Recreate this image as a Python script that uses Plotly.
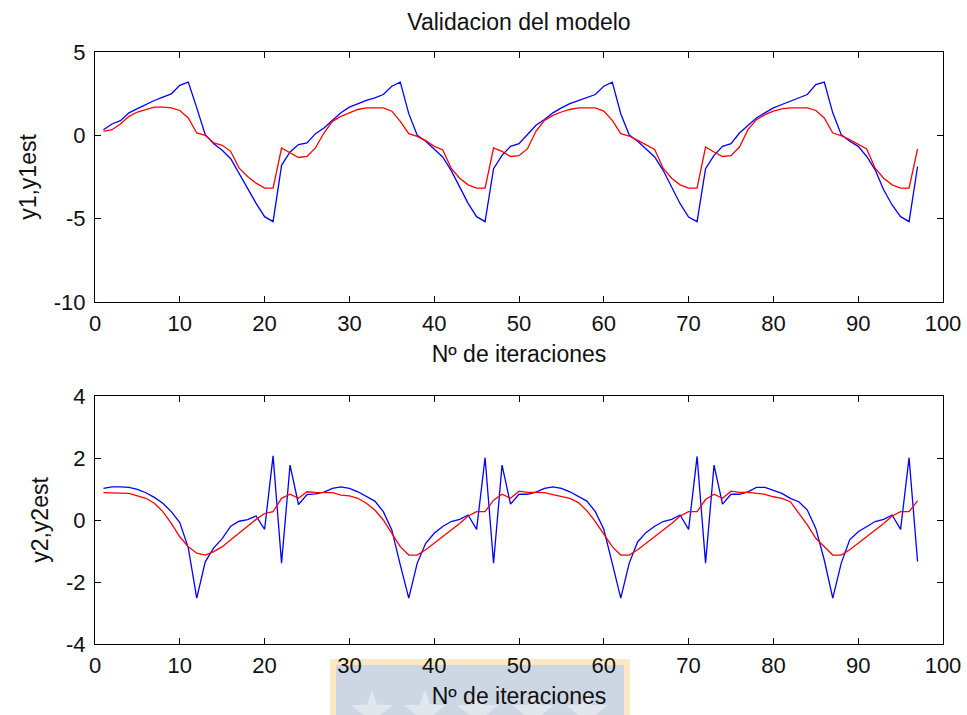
import math
import plotly.graph_objects as go
from plotly.subplots import make_subplots

# iteration index
iteraciones = list(range(1, 98))

# output 1: measured and estimated
y1 = [0.34, 0.68, 0.88, 1.35, 1.6, 1.85, 2.09, 2.29, 2.49, 3.0, 3.19, 1.65, 0.04, -0.5, -0.9, -1.4, -2.3, -3.2, -4.08, -4.88, -5.18, -1.8, -1.0, -0.55, -0.45,
      0.1, 0.44, 0.9, 1.35, 1.69, 1.9, 2.1, 2.25, 2.45, 2.95, 3.19, 1.3, 0.0, -0.36, -0.86, -1.3, -2.1, -3.1, -4.08, -4.88, -5.18, -2.0, -1.2, -0.66, -0.5,
      0.05, 0.6, 0.95, 1.35, 1.65, 1.9, 2.08, 2.25, 2.45, 2.95, 3.19, 1.3, 0.02, -0.36, -0.86, -1.3, -2.1, -3.15, -4.1, -4.9, -5.18, -2.0, -1.2, -0.66, -0.5,
      0.14, 0.6, 1.04, 1.35, 1.65, 1.85, 2.05, 2.25, 2.45, 3.05, 3.19, 1.35, 0.04, -0.36, -0.66, -1.27, -2.07, -3.27, -4.18, -4.88, -5.18, -1.87]
y1est = [0.24, 0.34, 0.68, 1.14, 1.4, 1.55, 1.69, 1.69, 1.65, 1.49, 1.04, 0.14, 0.0, -0.46, -0.6, -0.96, -1.97, -2.47, -2.87, -3.17, -3.17, -0.76, -1.06, -1.33, -1.27,
         -0.75, 0.14, 0.84, 1.14, 1.35, 1.55, 1.65, 1.65, 1.65, 1.45, 0.84, 0.1, -0.06, -0.32, -0.66, -0.86, -1.97, -2.57, -2.97, -3.17, -3.17, -0.76, -0.96, -1.27, -1.22,
         -0.8, 0.24, 0.9, 1.2, 1.4, 1.55, 1.65, 1.65, 1.65, 1.45, 0.9, 0.1, -0.04, -0.3, -0.6, -0.85, -1.97, -2.57, -2.97, -3.17, -3.17, -0.7, -1.0, -1.27, -1.22,
         -0.7, 0.34, 0.94, 1.24, 1.45, 1.59, 1.65, 1.65, 1.65, 1.49, 1.04, 0.14, -0.02, -0.26, -0.56, -0.82, -1.97, -2.57, -2.97, -3.17, -3.17, -0.82]

# output 2: measured and estimated
y2 = [1.02, 1.07, 1.07, 1.05, 0.99, 0.88, 0.73, 0.54, 0.27, -0.08, -0.9, -2.52, -1.35, -0.9, -0.6, -0.2, -0.04, 0.01, 0.13, -0.3, 2.07, -1.39, 1.77, 0.5, 0.82,
      0.84, 0.9, 1.02, 1.07, 1.02, 0.91, 0.75, 0.61, 0.27, -0.32, -1.45, -2.52, -1.39, -0.75, -0.43, -0.21, -0.05, 0.02, 0.16, -0.3, 2.01, -1.39, 1.77, 0.51, 0.83,
      0.83, 0.9, 1.02, 1.07, 1.02, 0.91, 0.75, 0.61, 0.27, -0.3, -1.4, -2.52, -1.39, -0.7, -0.4, -0.2, -0.05, 0.02, 0.16, -0.3, 2.05, -1.39, 1.77, 0.51, 0.83,
      0.83, 0.91, 1.05, 1.05, 0.96, 0.86, 0.7, 0.59, 0.32, -0.27, -1.29, -2.52, -1.39, -0.64, -0.38, -0.21, -0.05, 0.02, 0.16, -0.3, 2.01, -1.34]
y2est = [0.88, 0.88, 0.88, 0.86, 0.78, 0.7, 0.54, 0.27, -0.11, -0.54, -0.86, -1.07, -1.13, -1.02, -0.86, -0.64, -0.43, -0.19, 0.02, 0.21, 0.27, 0.7, 0.83, 0.7, 0.91,
         0.89, 0.89, 0.88, 0.8, 0.78, 0.7, 0.54, 0.32, 0.0, -0.43, -0.86, -1.13, -1.13, -0.96, -0.75, -0.54, -0.32, -0.11, 0.13, 0.27, 0.27, 0.64, 0.83, 0.7, 0.93,
         0.89, 0.89, 0.88, 0.82, 0.77, 0.7, 0.56, 0.3, -0.05, -0.45, -0.86, -1.13, -1.13, -0.96, -0.75, -0.54, -0.32, -0.11, 0.13, 0.27, 0.27, 0.66, 0.83, 0.7, 0.93,
         0.89, 0.89, 0.87, 0.83, 0.75, 0.7, 0.59, 0.21, -0.16, -0.59, -0.86, -1.13, -1.13, -0.96, -0.75, -0.54, -0.32, -0.11, 0.13, 0.27, 0.27, 0.62]

x_ticks = [0, 10, 20, 30, 40, 50, 60, 70, 80, 90, 100]
y1_ticks = [-10, -5, 0, 5]
y2_ticks = [-4, -2, 0, 2, 4]

FONT = "Liberation Sans, Arial, sans-serif"
W, H = 967, 715
L, R, T, B = 95, 24, 52, 71
pw, ph = W - L - R, H - T - B

def px_x(px):
    return (px - L) / pw

def px_y(py):
    return (H - B - py) / ph

fig = make_subplots(rows=2, cols=1)

fig.add_trace(go.Scatter(x=iteraciones, y=y1, mode="lines", line=dict(color="#0000ff", width=1.3), name="y1"), row=1, col=1)
fig.add_trace(go.Scatter(x=iteraciones, y=y1est, mode="lines", line=dict(color="#ff0000", width=1.3), name="y1est"), row=1, col=1)
fig.add_trace(go.Scatter(x=iteraciones, y=y2, mode="lines", line=dict(color="#0000ff", width=1.3), name="y2"), row=2, col=1)
fig.add_trace(go.Scatter(x=iteraciones, y=y2est, mode="lines", line=dict(color="#ff0000", width=1.3), name="y2est"), row=2, col=1)

axis_common = dict(
    showgrid=False, zeroline=False, showline=True, linecolor="black", linewidth=1,
    mirror="ticks", ticks="inside", ticklen=6, tickcolor="black", tickwidth=1,
    tickfont=dict(family=FONT, size=22, color="#111111"), automargin=False,
)
title_font = dict(family=FONT, size=23, color="#111111")

fig.update_xaxes(range=[0, 100], tickvals=x_ticks, ticklabelstandoff=2, **axis_common)
fig.update_yaxes(ticklabelstandoff=4, **axis_common)

fig.update_xaxes(title=dict(text="Nº de iteraciones", font=title_font, standoff=10), row=1, col=1)
fig.update_xaxes(title=dict(text="Nº de iteraciones", font=title_font, standoff=10), row=2, col=1)
fig.update_yaxes(range=[-10, 5], tickvals=y1_ticks, ticktext=[str(v) for v in y1_ticks],
                 title=dict(text="y1,y1est", font=title_font, standoff=10), row=1, col=1)
fig.update_yaxes(range=[-4, 4], tickvals=y2_ticks, ticktext=[str(v) for v in y2_ticks],
                 title=dict(text="y2,y2est", font=title_font, standoff=10), row=2, col=1)

fig.update_layout(
    width=W, height=H,
    margin=dict(l=L, r=R, t=T, b=B),
    paper_bgcolor="white", plot_bgcolor="white",
    showlegend=False,
    yaxis=dict(domain=[px_y(302), 1.0]),
    yaxis2=dict(domain=[0.0, px_y(396)]),
    title=dict(text="Validacion del modelo", x=(L + (W - R)) / 2 / W, xanchor="center",
               y=1 - 22 / H, yanchor="middle", font=title_font),
)

# faded emblem behind the lower axis label
fig.add_shape(type="rect", xref="paper", yref="paper",
              x0=px_x(333), x1=px_x(627), y0=px_y(H + 5), y1=px_y(662),
              fillcolor="#cdd7e3", line=dict(color="#fde8c6", width=6), layer="below")

def star_path(cx, cy, ro, ri):
    pts = []
    for k in range(10):
        r = ro if k % 2 == 0 else ri
        a = -math.pi / 2 + k * math.pi / 5
        pts.append((px_x(cx + r * math.cos(a)), px_y(cy + r * math.sin(a))))
    return "M " + " L ".join(f"{x:.5f},{y:.5f}" for x, y in pts) + " Z"

for sx in [372, 425, 478, 533, 587]:
    fig.add_shape(type="path", xref="paper", yref="paper", path=star_path(sx, 712, 22, 9),
                  fillcolor="#e2e7ee", line=dict(width=0), layer="below")

fig.write_html("out.html")
